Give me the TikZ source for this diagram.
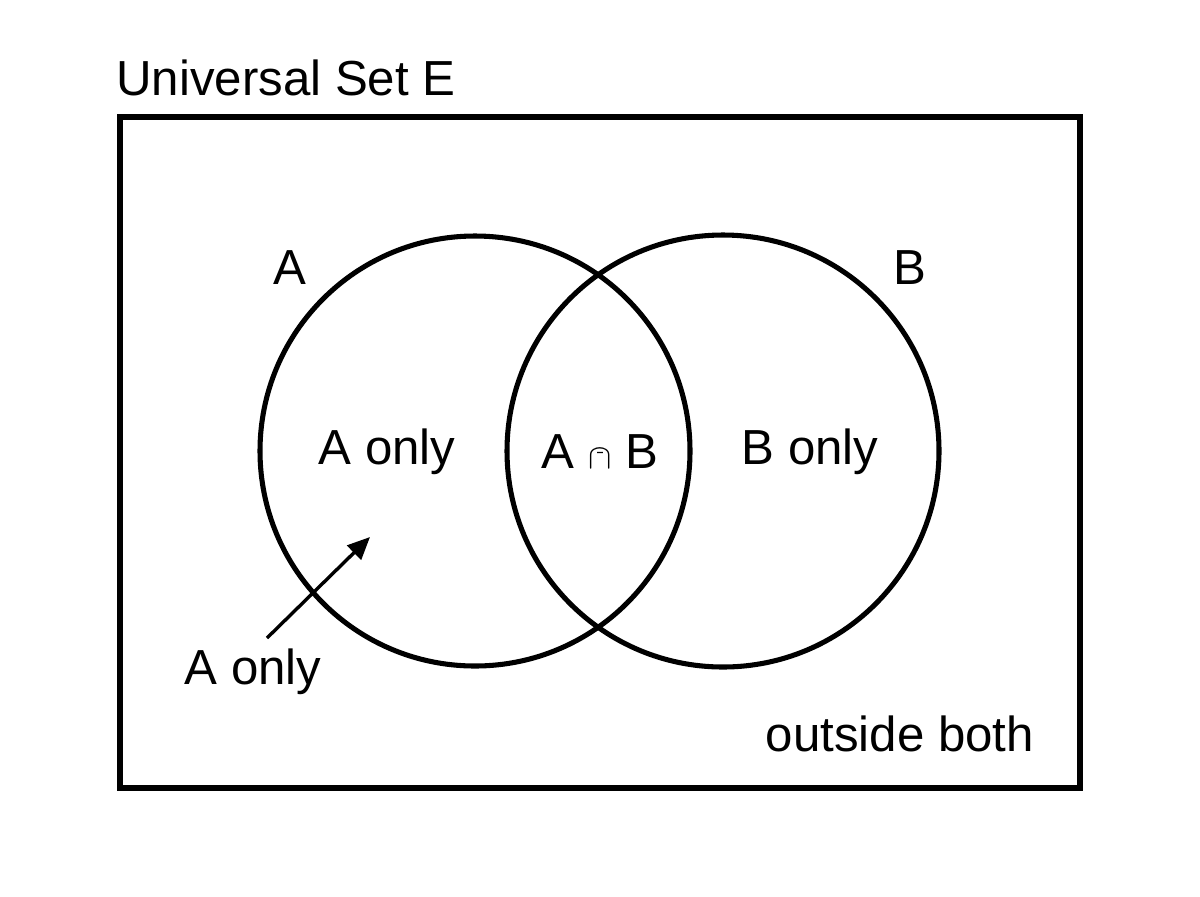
\documentclass[tikz,border=0pt]{standalone}
\usepackage{fontspec}
\setmainfont{Liberation Sans}
\usetikzlibrary{arrows.meta}
\begin{document}
\begin{tikzpicture}[x=0.025cm,y=-0.025cm,
  line/.style={line width=3.6pt},
  lbl/.style={font=\fontsize{35}{40}\selectfont,inner sep=0pt}]
\useasboundingbox (0,0) rectangle (1200,896);
\node[draw,line,minimum width=0pt,inner sep=0pt] (U) at (600,452.5) {};
\draw[line] (120,117) rectangle (1080,788);
\node[lbl] (title) at (286,78) {Universal Set E};
\draw[line] (475,451) circle (215);
\draw[line] (723,451) circle (216);
\node[lbl] (la) at (290,268) {A};
\node[lbl] (lb) at (910,268) {B};
\node[lbl] (aonly) at (387,452) {A only};
\node[lbl] (ab) at (600,452) {A $\cap$ B};
\node[lbl] (bonly) at (810,452) {B only};
\node[lbl] (aonly2) at (253,672) {A only};
\node[lbl] (out) at (900,734) {outside both};
\coordinate (tip) at (370,537);
\coordinate (tail) at (267,638);
\draw[line width=2.4pt,-{Triangle[length=16pt,width=14pt]}] (tail) -- (tip);
\end{tikzpicture}
\end{document}
